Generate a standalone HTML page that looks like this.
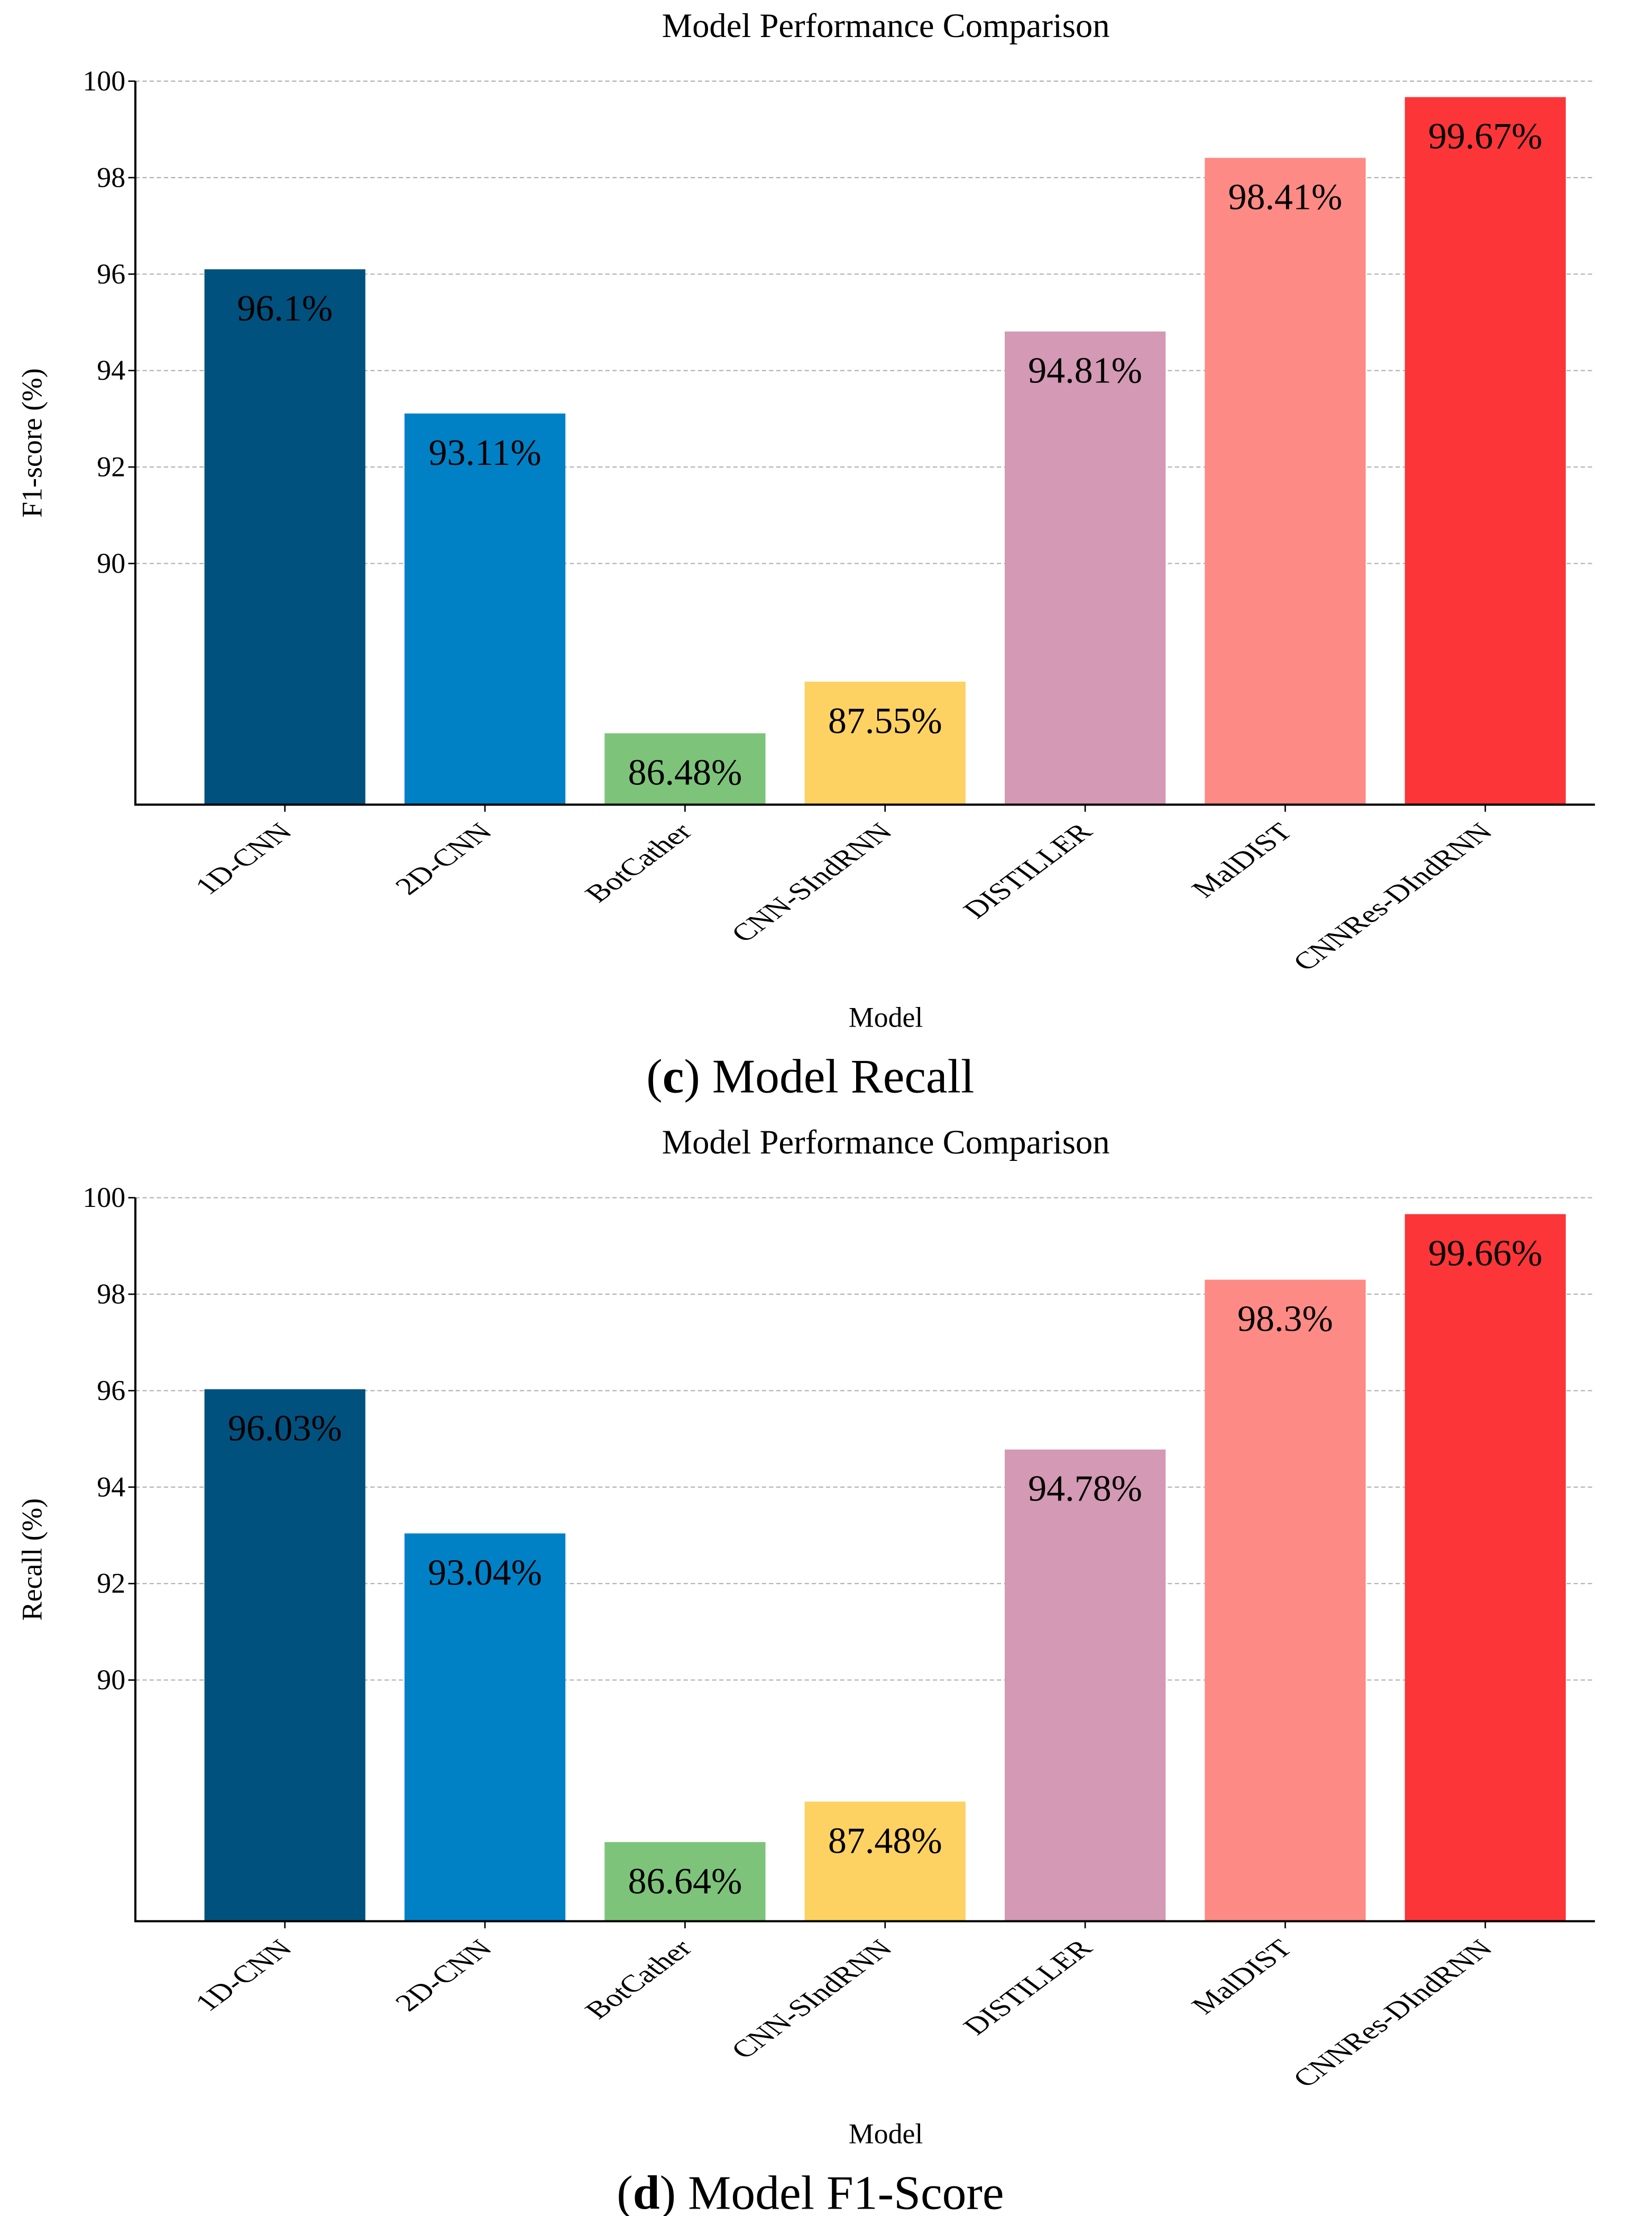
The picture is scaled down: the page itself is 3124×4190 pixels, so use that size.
<!DOCTYPE html>
<html><head><meta charset="utf-8"><style>
html,body{margin:0;padding:0;background:#fff}
svg{display:block}
text{font-family:"Liberation Serif",serif;fill:#000}
</style></head><body>
<svg id="fig" width="3124" height="4190" viewBox="0 0 1160 1556" xmlns="http://www.w3.org/2000/svg"></svg>
<script>
const categories = ["1D-CNN","2D-CNN","BotCather","CNN-SIndRNN","DISTILLER","MalDIST","CNNRes-DIndRNN"];
const f1Values = [96.1, 93.11, 86.48, 87.55, 94.81, 98.41, 99.67];
const recallValues = [96.03, 93.04, 86.64, 87.48, 94.78, 98.3, 99.66];
const f1Labels = ["96.1%","93.11%","86.48%","87.55%","94.81%","98.41%","99.67%"];
const recallLabels = ["96.03%","93.04%","86.64%","87.48%","94.78%","98.3%","99.66%"];
const yTicks = [90, 92, 94, 96, 98, 100];
const colors = ["#01517E","#0081C6","#7DC47A","#FDD262","#D499B4","#FE8A85","#FB3538"];

const NS = "http://www.w3.org/2000/svg";
const svg = document.getElementById("fig");
function mk(tag, attrs, parent){
  const e = document.createElementNS(NS, tag);
  for (const k in attrs) e.setAttribute(k, attrs[k]);
  (parent||svg).appendChild(e);
  return e;
}

function drawChart(offY, values, labels, yTitle, capBold, capRest, key){
  const g = mk("g", {});
  
  
  const left = 95, right = 1120, top = offY + 57, bottom = offY + 565;
  const yMin = 85, yMax = 100;
  const y = v => bottom - (v - yMin) / (yMax - yMin) * (bottom - top);
  const step = 140.5, x0 = 200, bw = 113;
  const x = i => x0 + i * step;

  const t = mk("text", {x: 622, y: offY + 26, "text-anchor": "middle", "font-size": 24}, g);
  t.textContent = "Model Performance Comparison";
  
  

  yTicks.forEach(v => {
    const gl = mk("line", {x1: left, x2: right, y1: y(v), y2: y(v), stroke: "#b0b0b0", "stroke-width": 0.8, "stroke-dasharray": "3,2"}, g);
    
    
    mk("line", {x1: left - 5, x2: left, y1: y(v), y2: y(v), stroke: "#000", "stroke-width": 1}, g);
    const tl = mk("text", {x: left - 7, y: y(v) + 6.5, "text-anchor": "end", "font-size": 20}, g);
    tl.textContent = v;
    
    
  });

  values.forEach((v, i) => {
    const r = mk("rect", {x: x(i) - bw/2, y: y(v), width: bw, height: bottom - y(v), fill: colors[i]}, g);
    
    
    const vl = mk("text", {x: x(i), y: y(v) + 36, "text-anchor": "middle", "font-size": 26}, g);
    vl.textContent = labels[i];
    
    
    mk("line", {x1: x(i), x2: x(i), y1: bottom, y2: bottom + 5, stroke: "#000", "stroke-width": 1}, g);
    const xl = mk("text", {x: 0, y: 0, "text-anchor": "end", "font-size": 17, transform: `translate(${x(i)+6} ${bottom+20}) scale(1.35 1) rotate(-45)`}, g);
    xl.textContent = categories[i];
    
    
  });

  const ax = mk("path", {d: `M${left},${top} V${bottom} H${right}`, fill: "none", stroke: "#000", "stroke-width": 1.5}, g);
  
  

  const xt = mk("text", {x: 622, y: offY + 721, "text-anchor": "middle", "font-size": 20}, g);
  xt.textContent = "Model";
  
  

  const yt = mk("text", {x: 29, y: offY + 311, "text-anchor": "middle", "font-size": 20, transform: `rotate(-90 29 ${offY+311})`}, g);
  yt.textContent = yTitle;
  
  

  const cap = mk("text", {x: 569, y: offY + 767, "text-anchor": "middle", "font-size": 34}, g);
  
  
  const s1 = mk("tspan", {}, cap); s1.textContent = "(";
  const s2 = mk("tspan", {"font-weight": "bold"}, cap); s2.textContent = capBold;
  const s3 = mk("tspan", {}, cap); s3.textContent = ") " + capRest;
}

drawChart(0, f1Values, f1Labels, "F1-score (%)", "c", "Model Recall", "f1");
drawChart(784, recallValues, recallLabels, "Recall (%)", "d", "Model F1-Score", "recall");
</script>
</body></html>
